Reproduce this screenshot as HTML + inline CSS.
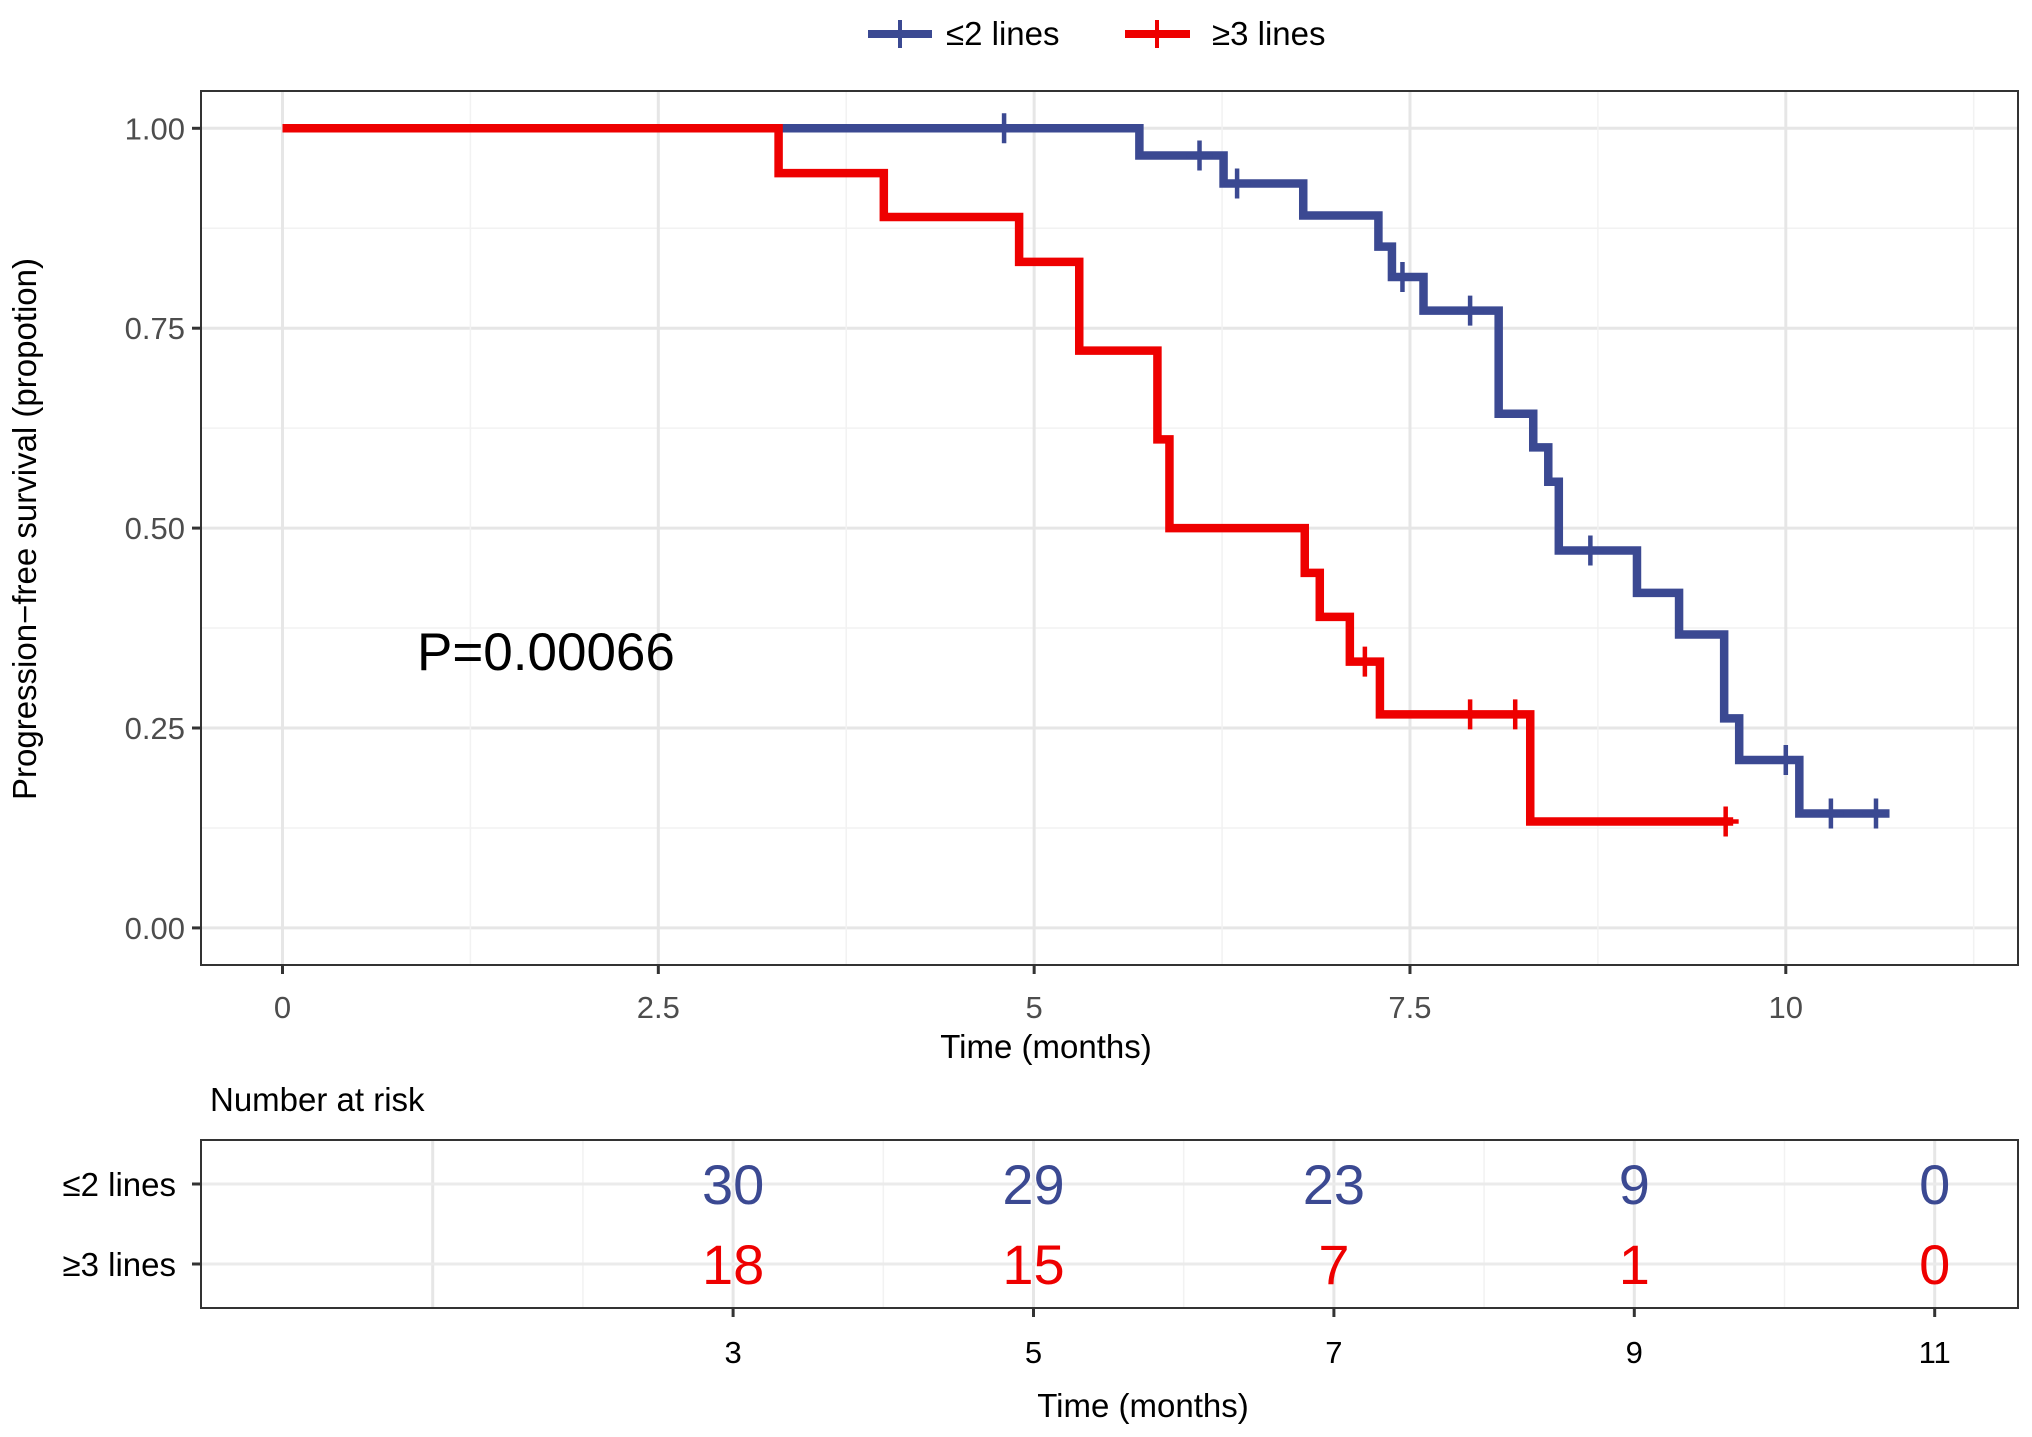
<!DOCTYPE html>
<html><head><meta charset="utf-8"><style>
html,body{margin:0;padding:0;background:#fff;width:2032px;height:1437px;overflow:hidden}
svg text{font-family:"Liberation Sans",sans-serif}
</style></head><body>
<svg id="chart" width="2032" height="1437" viewBox="0 0 2032 1437" xmlns="http://www.w3.org/2000/svg">
<g id="legend">
 <g>
  <line x1="868" y1="34" x2="932" y2="34" stroke="#3b4992" stroke-width="8"/>
  <line x1="900" y1="20" x2="900" y2="48" stroke="#3b4992" stroke-width="4"/>
  <text x="946" y="45" font-size="33" fill="#000">≤2 lines</text>
 </g>
 <g>
  <line x1="1125" y1="34" x2="1190" y2="34" stroke="#ee0000" stroke-width="8"/>
  <line x1="1157" y1="20" x2="1157" y2="48" stroke="#ee0000" stroke-width="4"/>
  <text x="1212" y="45" font-size="33" fill="#000">≥3 lines</text>
 </g>
</g>
<g id="grid"></g>
<g id="curves"></g>
<rect x="201" y="91" width="1817" height="874" fill="none" stroke="#333" stroke-width="2"/>
<g id="axes"></g>
<text x="417" y="670" font-size="53" fill="#000">P=0.00066</text>
<text transform="translate(36,529) rotate(-90)" text-anchor="middle" font-size="33" fill="#000">Progression−free survival (propotion)</text>
<text x="1046" y="1058" text-anchor="middle" font-size="33" fill="#000">Time (months)</text>
<text x="210" y="1111" font-size="33" fill="#000">Number at risk</text>
<g id="risk"></g>
<text x="1143" y="1417" text-anchor="middle" font-size="33" fill="#000">Time (months)</text>
</svg>
<script>
const blueTimes=[0,5.7,6.26,6.79,7.29,7.38,7.59,8.09,8.32,8.42,8.49,9.01,9.29,9.59,9.69,10.09];
const blueSurv=[1,0.966,0.931,0.891,0.852,0.814,0.772,0.643,0.601,0.558,0.472,0.419,0.367,0.262,0.210,0.143];
const blueEnd=10.69;
const blueCensT=[4.8,6.1,6.35,7.45,7.9,8.7,10.0,10.3,10.6];
const redTimes=[0,3.3,4.0,4.9,5.3,5.82,5.9,6.8,6.9,7.1,7.3,8.3];
const redSurv=[1,0.944,0.889,0.833,0.722,0.611,0.5,0.444,0.389,0.333,0.267,0.133];
const redEnd=9.65;
const redCensT=[7.2,7.9,8.2,9.6];
const xTicks=[0,2.5,5,7.5,10];
const xTickLabels=["0","2.5","5","7.5","10"];
const yTicks=[0,0.25,0.5,0.75,1];
const yTickLabels=["0.00","0.25","0.50","0.75","1.00"];
const riskTimes=[3,5,7,9,11];
const riskBlue=[30,29,23,9,0];
const riskRed=[18,15,7,1,0];
const riskGroups=["≤2 lines","≥3 lines"];

const NS="http://www.w3.org/2000/svg";
const X=t=>282.5+t*150.33;
const Y=s=>927.9-s*799.6;
function mk(parent,tag,attrs){const e=document.createElementNS(NS,tag);for(const k in attrs)e.setAttribute(k,attrs[k]);parent.appendChild(e);return e;}
const grid=document.getElementById('grid');
for(let v=0;v<=1.05;v+=0.125){const major=Math.abs(v*4-Math.round(v*4))<1e-6;
 const l=mk(grid,'line',{x1:201,x2:2018,y1:Y(v),y2:Y(v),stroke:major?'#e6e6e6':'#f2f2f2','stroke-width':major?3:1.5});
 
 }
for(let v=0;v<=11.5;v+=1.25){const major=Math.abs(v/2.5-Math.round(v/2.5))<1e-6;
 const l=mk(grid,'line',{x1:X(v),x2:X(v),y1:91,y2:965,stroke:major?'#e6e6e6':'#f2f2f2','stroke-width':major?3:1.5});
 
 }
const curves=document.getElementById('curves');
function drawCurve(times,surv,end,cens,color,name){
 let d=`M${X(times[0])},${Y(surv[0])}`;
 for(let i=1;i<times.length;i++){d+=`H${X(times[i])}V${Y(surv[i])}`;}
 d+=`H${X(end)}`;
 const p=mk(curves,'path',{d:d,fill:'none',stroke:color,'stroke-width':8.5,'stroke-linejoin':'miter'});
 
 
 cens.forEach(t=>{let s=surv[0];for(let i=0;i<times.length;i++){if(times[i]<=t)s=surv[i];}
  const g=mk(curves,'path',{d:`M${X(t)-13},${Y(s)}H${X(t)+13}M${X(t)},${Y(s)-15}V${Y(s)+15}`,stroke:color,'stroke-width':4.5,fill:'none'});
  
  });
}
drawCurve(blueTimes,blueSurv,blueEnd,blueCensT,'#3b4992','le2');
drawCurve(redTimes,redSurv,redEnd,redCensT,'#ee0000','ge3');
const axes=document.getElementById('axes');
xTicks.forEach((t,i)=>{mk(axes,'line',{x1:X(t),x2:X(t),y1:965,y2:974,stroke:'#333','stroke-width':3});
 const tx=mk(axes,'text',{x:X(t),y:1018,'text-anchor':'middle','font-size':31,fill:'#4d4d4d'});tx.textContent=xTickLabels[i];
 
 });
yTicks.forEach((v,i)=>{mk(axes,'line',{x1:192,x2:201,y1:Y(v),y2:Y(v),stroke:'#333','stroke-width':3});
 const tx=mk(axes,'text',{x:185,y:Y(v)+11,'text-anchor':'end','font-size':31,fill:'#4d4d4d'});tx.textContent=yTickLabels[i];
 
 });
// risk table
const risk=document.getElementById('risk');
const RX=t=>282.5+t*150.2;
const rowY=[1184,1264];
for(let v=1;v<=11;v++){const l=mk(risk,'line',{x1:RX(v),x2:RX(v),y1:1140,y2:1308,stroke:v%2?'#e6e6e6':'#f2f2f2','stroke-width':v%2?3:1.5});
 
 }
rowY.forEach((y,i)=>{mk(risk,'line',{x1:201,x2:2018,y1:y,y2:y,stroke:'#ebebeb','stroke-width':3});
 mk(risk,'line',{x1:192,x2:201,y1:y,y2:y,stroke:'#333','stroke-width':3});
 const tx=mk(risk,'text',{x:176,y:y+12,'text-anchor':'end','font-size':33,fill:'#000'});tx.textContent=riskGroups[i];
 
 });
mk(risk,'rect',{x:201,y:1140,width:1817,height:168,fill:'none',stroke:'#333','stroke-width':2});
riskTimes.forEach((t,i)=>{
 const a=mk(risk,'text',{x:RX(t),y:rowY[0]+20,'text-anchor':'middle','font-size':56,fill:'#3b4992'});a.textContent=riskBlue[i];
 
 
 const b=mk(risk,'text',{x:RX(t),y:rowY[1]+20,'text-anchor':'middle','font-size':56,fill:'#ee0000'});b.textContent=riskRed[i];
 
 
 mk(risk,'line',{x1:RX(t),x2:RX(t),y1:1308,y2:1317,stroke:'#333','stroke-width':3});
 const c=mk(risk,'text',{x:RX(t),y:1363,'text-anchor':'middle','font-size':31,fill:'#000'});c.textContent=t;
 
 });
</script>
</body></html>
